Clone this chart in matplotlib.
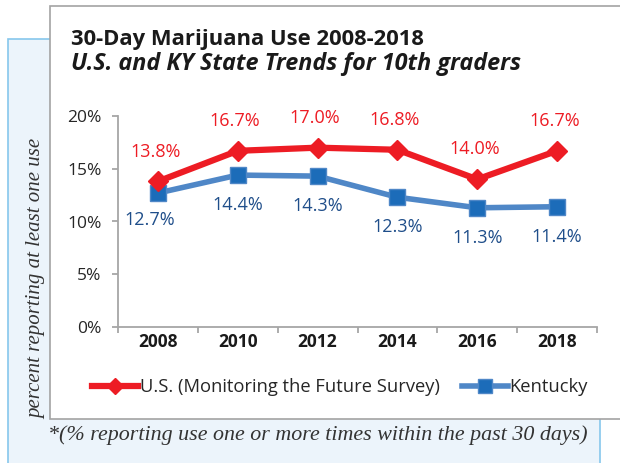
import matplotlib.pyplot as plt
from matplotlib.patches import Rectangle

years = ['2008', '2010', '2012', '2014', '2016', '2018']
us_values = [13.8, 16.7, 17.0, 16.8, 14.0, 16.7]
ky_values = [12.7, 14.4, 14.3, 12.3, 11.3, 11.4]
y_ticks = [0, 5, 10, 15, 20]

W, H = 620, 463
RED = '#ED1C24'
BLUE_LINE = '#4F87C7'
BLUE_MARK = '#1C6CB9'
BLUE_TEXT = '#1F4E8A'

plt.rcParams['font.family'] = ['Open Sans', 'DejaVu Sans']

fig = plt.figure(figsize=(W / 100, H / 100), dpi=100)


def fx(px):
    return px / W


def fy(py):
    return 1 - py / H


# light blue panel behind, white card on top
fig.patches.append(Rectangle((fx(8), fy(475)), fx(600) - fx(8), fy(39) - fy(475),
                             transform=fig.transFigure, facecolor='#ECF4FB',
                             edgecolor='#86C7EC', linewidth=1.2, zorder=0))
fig.patches.append(Rectangle((fx(50), fy(419)), fx(640) - fx(50), fy(6) - fy(419),
                             transform=fig.transFigure, facecolor='white',
                             edgecolor='#A3A3A3', linewidth=1.2, zorder=1))

ax = fig.add_axes([fx(118), fy(327), fx(597) - fx(118), fy(116) - fy(327)])
ax.set_zorder(2)
ax.patch.set_visible(False)

x = list(range(len(years)))
ax.plot(x, us_values, color=RED, linewidth=4.5, marker='D', markersize=10,
        markerfacecolor=RED, markeredgecolor=RED, solid_joinstyle='miter',
        label='U.S. (Monitoring the Future Survey)', zorder=4)
ax.plot(x, ky_values, color=BLUE_LINE, linewidth=4, marker='s', markersize=12,
        markerfacecolor=BLUE_MARK, markeredgecolor=BLUE_LINE, markeredgewidth=1,
        label='Kentucky', zorder=3)

for i, v in enumerate(us_values):
    ax.annotate(f'{v:.1f}%', (i, v), xytext=(-2, 21.5), textcoords='offset points',
                ha='center', va='center', color=RED, fontsize=13)
for i, v in enumerate(ky_values):
    dx = -6 if i == 0 else 0
    dy = -19.5 if i == 0 else -21.5
    ax.annotate(f'{v:.1f}%', (i, v), xytext=(dx, dy), textcoords='offset points',
                ha='center', va='center', color=BLUE_TEXT, fontsize=13)

ax.set_xlim(-0.5, len(years) - 0.5)
ax.set_ylim(0, 20)
ax.set_yticks(y_ticks)
ax.set_yticklabels([f'{t}%' for t in y_ticks])
ax.set_xticks([i - 0.5 for i in range(len(years) + 1)])
ax.set_xticklabels([])
ax.set_xticks(x, minor=True)
ax.set_xticklabels(years, minor=True, fontweight='bold')

for side in ['top', 'right']:
    ax.spines[side].set_visible(False)
for side in ['left', 'bottom']:
    ax.spines[side].set_color('#A6A6A6')
    ax.spines[side].set_linewidth(1.3)

ax.tick_params(axis='y', direction='out', length=4, width=1.3, color='#A6A6A6',
               labelsize=12.5, labelcolor='#262626', pad=8)
ax.tick_params(axis='x', which='major', direction='out', length=4, width=1.3,
               color='#A6A6A6')
ax.tick_params(axis='x', which='minor', length=0, labelsize=12.5,
               labelcolor='#1A1A1A', pad=4)

fig.text(fx(71), fy(39), '30-Day Marijuana Use 2008-2018', fontsize=15.8,
         fontweight='bold', color='#1A1A1A', va='center', ha='left', zorder=5)
fig.text(fx(71), fy(64), 'U.S. and KY State Trends for 10th graders', fontsize=16.8,
         fontweight='bold', fontstyle='italic', color='#1A1A1A', va='center',
         ha='left', zorder=5)

fig.text(fx(37), fy(279), 'percent reporting at least one use', rotation=90,
         family=['Liberation Serif'], fontstyle='italic', fontsize=15,
         color='#333333', ha='center', va='center', zorder=5)
fig.text(fx(318), fy(435), '*(% reporting use one or more times within the past 30 days)',
         family=['Liberation Serif'], fontstyle='italic', fontsize=15.8,
         color='#333333', ha='center', va='center', zorder=5)

leg = fig.legend(loc='center', bbox_to_anchor=(fx(340), fy(387)), ncol=2,
                 frameon=False, fontsize=13.2, handlelength=2.5, handletextpad=0.1,
                 columnspacing=1.2, labelcolor='#262626', markerscale=0.8)
leg.set_zorder(5)

fig.savefig('out.png', dpi=100)
